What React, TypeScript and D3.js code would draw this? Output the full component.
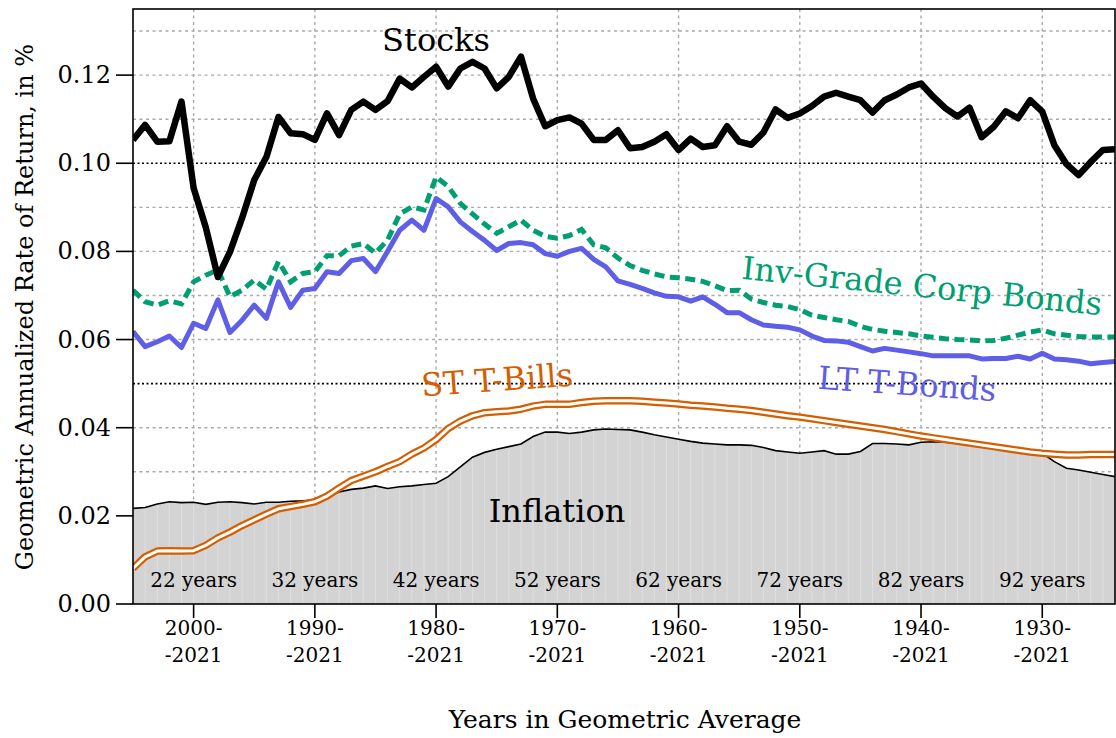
import React from "react";
import * as d3 from "d3";

const WIDTH = 1116;
const HEIGHT = 738;
const PLOT = { left: 133, right: 1115, top: 9, bottom: 604 };

// start year of each geometric average window (all windows end in 2021)
const startYears = d3.range(2005, 1923, -1);

const stocks = [
  0.1053, 0.1087, 0.1049, 0.105, 0.114, 0.0944, 0.0855, 0.0742, 0.0799, 0.0876,
  0.0962, 0.1014, 0.1105, 0.1068, 0.1066, 0.1053, 0.1113, 0.1064, 0.1121, 0.114,
  0.1121, 0.1141, 0.1192, 0.1172, 0.1196, 0.1219, 0.1174, 0.1215, 0.123, 0.1215,
  0.117, 0.1196, 0.1242, 0.1147, 0.1084, 0.1098, 0.1104, 0.109, 0.1053, 0.1053,
  0.1075, 0.1034, 0.1037, 0.1049, 0.1066, 0.103, 0.1056, 0.1037, 0.1041, 0.1084,
  0.1049, 0.1042, 0.107, 0.1122, 0.1103, 0.1113, 0.113, 0.1151, 0.116, 0.1151,
  0.1143, 0.1115, 0.1143, 0.1156, 0.1172, 0.1181, 0.1151, 0.1125, 0.1106, 0.1126,
  0.1059, 0.1083, 0.1118, 0.1102, 0.1143, 0.1117, 0.1041, 0.0998, 0.0973, 0.1003,
  0.103, 0.1032,
];

const corpBonds = [
  0.0712, 0.0686, 0.0678, 0.0688, 0.0681, 0.0731, 0.0746, 0.0758, 0.0697, 0.0712,
  0.0735, 0.0714, 0.0777, 0.0731, 0.075, 0.0754, 0.079, 0.079, 0.0812, 0.0818,
  0.0796, 0.0826, 0.0885, 0.0901, 0.0894, 0.0969, 0.0947, 0.0909, 0.0885, 0.0862,
  0.0841, 0.0856, 0.0871, 0.0848, 0.0834, 0.083, 0.0836, 0.085, 0.0815, 0.0808,
  0.0785, 0.0768, 0.0757, 0.0749, 0.0742, 0.074, 0.0737, 0.0732, 0.0722, 0.0711,
  0.0712, 0.0692, 0.0684, 0.0678, 0.0675, 0.0668, 0.0655, 0.065, 0.0645, 0.0641,
  0.063, 0.0623, 0.0619, 0.0616, 0.0613, 0.0608, 0.0605, 0.0602, 0.06, 0.0599,
  0.0597, 0.0598, 0.0603, 0.061, 0.0617, 0.0622, 0.0613, 0.061, 0.0607, 0.0606,
  0.0606, 0.0606,
];

const tBonds = [
  0.0618, 0.0584, 0.0595, 0.0608, 0.0582, 0.0637, 0.0625, 0.069, 0.0616, 0.0644,
  0.0678, 0.0648, 0.0731, 0.0673, 0.0712, 0.0716, 0.0754, 0.075, 0.0779, 0.0784,
  0.0754, 0.08, 0.0848, 0.0871, 0.0848, 0.092, 0.0901, 0.0867, 0.0845, 0.0825,
  0.0802, 0.0818, 0.082, 0.0815, 0.0795, 0.0789, 0.08, 0.0807, 0.0782, 0.0765,
  0.0733, 0.0725, 0.0716, 0.0706, 0.0698, 0.0697, 0.0687, 0.0697, 0.068, 0.0661,
  0.0661, 0.0645, 0.0633, 0.063, 0.0628, 0.0622, 0.0608, 0.0598, 0.0597, 0.0594,
  0.0584, 0.0574, 0.058, 0.0576, 0.0572, 0.0568, 0.0563, 0.0563, 0.0563, 0.0563,
  0.0556, 0.0557, 0.0557, 0.0562, 0.0556, 0.0569, 0.0556, 0.0554, 0.0551, 0.0545,
  0.0548, 0.055,
];

const tBills = [
  0.0081, 0.0107, 0.012, 0.0121, 0.012, 0.0121, 0.0133, 0.015, 0.0163, 0.0178,
  0.0191, 0.0204, 0.0216, 0.0221, 0.0226, 0.0232, 0.0245, 0.0263, 0.028, 0.029,
  0.03, 0.0312, 0.0323, 0.034, 0.0354, 0.0373, 0.0398, 0.0415, 0.0427, 0.0434,
  0.0436, 0.0438, 0.0442, 0.0449, 0.0453, 0.0453, 0.0453, 0.0457, 0.046, 0.0461,
  0.0461, 0.0461, 0.046, 0.0458, 0.0456, 0.0454, 0.0451, 0.0449, 0.0447, 0.0444,
  0.0442, 0.0439, 0.0435, 0.0431, 0.0427, 0.0424, 0.042, 0.0416, 0.0412, 0.0408,
  0.0404, 0.04, 0.0396, 0.0391, 0.0386, 0.0381, 0.0377, 0.0373, 0.0369, 0.0365,
  0.0361, 0.0357, 0.0353, 0.0349, 0.0345, 0.0342, 0.034, 0.0338, 0.0338, 0.0339,
  0.0339, 0.0339,
];

const inflation = [
  0.0217, 0.0219, 0.0227, 0.0232, 0.023, 0.0231, 0.0226, 0.0231, 0.0232, 0.023,
  0.0227, 0.0231, 0.0231, 0.0233, 0.0234, 0.0236, 0.0243, 0.0254, 0.026, 0.0263,
  0.0268, 0.0262, 0.0266, 0.0268, 0.0271, 0.0274, 0.0289, 0.0311, 0.0333, 0.0344,
  0.0351, 0.0357, 0.0363, 0.038, 0.039, 0.039, 0.0387, 0.039, 0.0395, 0.0397,
  0.0396, 0.0395, 0.039, 0.0384, 0.0379, 0.0374, 0.0369, 0.0365, 0.0363, 0.0361,
  0.0361, 0.036, 0.0355, 0.0348, 0.0345, 0.0342, 0.0345, 0.0348, 0.034, 0.034,
  0.0346, 0.0364, 0.0364, 0.0363, 0.0361, 0.0367, 0.0368, 0.0367, 0.0364, 0.0361,
  0.0358, 0.0356, 0.0354, 0.0352, 0.0349, 0.0342, 0.0323, 0.0308, 0.0304, 0.0299,
  0.0294, 0.0289,
];

const xTickYears = [2000, 1990, 1980, 1970, 1960, 1950, 1940, 1930];
const periodLabels = ["22 years", "32 years", "42 years", "52 years", "62 years", "72 years", "82 years", "92 years"];
const yTicks = [0, 0.02, 0.04, 0.06, 0.08, 0.1, 0.12];
const yGrid = [0.01, 0.02, 0.03, 0.04, 0.06, 0.07, 0.08, 0.09, 0.11, 0.12, 0.13];
const yRefLines = [0.05, 0.1];

const GREEN = "#009E73";
const BLUE = "#5E5EE6";
const ORANGE = "#D55E00";
const FONT = "DejaVu Serif";

export default function App() {
  const x = d3.scaleLinear().domain([2005, 1924]).range([PLOT.left, PLOT.right]);
  const y = d3.scaleLinear().domain([0, 0.135]).range([PLOT.bottom, PLOT.top]);

  const line = (vals: number[]) =>
    d3.line<number>()
      .x((_, i) => x(startYears[i]))
      .y((d) => y(d))(vals) ?? "";

  const inflArea = d3.area<number>()
    .x((_, i) => x(startYears[i]))
    .y0(y(0))
    .y1((d) => y(d))(inflation) ?? "";

  return (
    <div style={{ position: "absolute", left: 0, top: 0 }}>
      <svg width={WIDTH} height={HEIGHT} style={{ display: "block", fontFamily: FONT }}>
        <defs>
          <clipPath id="plot-clip">
            <rect x={PLOT.left} y={PLOT.top} width={PLOT.right - PLOT.left} height={PLOT.bottom - PLOT.top} />
          </clipPath>
        </defs>
        <rect width={WIDTH} height={HEIGHT} fill="white" />

        {/* grid */}
        {yGrid.map((v) => (
          <line key={"gy" + v} x1={PLOT.left} x2={PLOT.right} y1={y(v)} y2={y(v)}
            stroke="#aaaaaa" strokeWidth={1.4} strokeDasharray="3,3.5" />
        ))}
        {xTickYears.map((yr) => (
          <line key={"gx" + yr} x1={x(yr)} x2={x(yr)} y1={PLOT.top} y2={PLOT.bottom}
            stroke="#aaaaaa" strokeWidth={1.4} strokeDasharray="3,3.5" />
        ))}

        <g clipPath="url(#plot-clip)">
          {/* inflation as grey area with faint yearly bars */}
          <path d={inflArea} fill="#d3d3d3" />
          {inflation.map((v, i) => (
            <line key={"ib" + i} x1={x(startYears[i])} x2={x(startYears[i])} y1={y(0)} y2={y(v) + 1}
              stroke="#e2e2e2" strokeWidth={0.8} />
          ))}
          <path d={line(inflation)} fill="none" stroke="black" strokeWidth={1.6} />

          {yRefLines.map((v) => (
            <line key={"ref" + v} x1={PLOT.left} x2={PLOT.right} y1={y(v)} y2={y(v)}
              stroke="black" strokeWidth={1.6} strokeDasharray="2,2.5" />
          ))}

          <path d={line(tBills)} fill="none" stroke={ORANGE} strokeWidth={7.5} strokeLinejoin="round" />
          <path d={line(tBills)} fill="none" stroke="white" strokeWidth={3} strokeLinejoin="round" />
          <path d={line(tBonds)} fill="none" stroke={BLUE} strokeWidth={5} strokeLinejoin="round" />
          <path d={line(corpBonds)} fill="none" stroke={GREEN} strokeWidth={5} strokeDasharray="10,5.5" />
          <path d={line(stocks)} fill="none" stroke="black" strokeWidth={6.5} strokeLinejoin="round" />
        </g>

        {/* frame */}
        <rect x={PLOT.left} y={PLOT.top} width={PLOT.right - PLOT.left} height={PLOT.bottom - PLOT.top}
          fill="none" stroke="black" strokeWidth={1.6} />

        {/* y axis */}
        {yTicks.map((v) => (
          <g key={"yt" + v}>
            <line x1={PLOT.left - 17} x2={PLOT.left} y1={y(v)} y2={y(v)} stroke="black" strokeWidth={1.6} />
            <text x={PLOT.left - 22} y={y(v)} textAnchor="end" dominantBaseline="central" fontSize={24}>
              {d3.format(".2f")(v)}
            </text>
          </g>
        ))}

        {/* x axis */}
        {xTickYears.map((yr, i) => (
          <g key={"xt" + yr}>
            <line x1={x(yr)} x2={x(yr)} y1={PLOT.bottom} y2={PLOT.bottom + 14} stroke="black" strokeWidth={1.6} />
            <text x={x(yr)} textAnchor="middle" fontSize={20}>
              <tspan x={x(yr)} y={635}>{yr}-</tspan>
              <tspan x={x(yr)} y={662}>-2021</tspan>
            </text>
            <text x={x(yr)} y={587} textAnchor="middle" fontSize={20}>{periodLabels[i]}</text>
          </g>
        ))}

        {/* series labels */}
        <text x={436} y={51} textAnchor="middle" fontSize={32}>Stocks</text>
        <text x={557} y={522} textAnchor="middle" fontSize={32}>Inflation</text>
        <text transform="translate(922,286) rotate(5.8)" textAnchor="middle" dominantBaseline="central"
          fontSize={32} fill={GREEN}>Inv-Grade Corp Bonds</text>
        <text transform="translate(907,384) rotate(4)" textAnchor="middle" dominantBaseline="central"
          fontSize={32} fill={BLUE}>LT T-Bonds</text>
        <text transform="translate(497,380) rotate(-4)" textAnchor="middle" dominantBaseline="central"
          fontSize={32} fill={ORANGE}>ST T-Bills</text>

        {/* axis titles */}
        <text transform="translate(25,307) rotate(-90)" textAnchor="middle" dominantBaseline="central" fontSize={24}>
          Geometric Annualized Rate of Return, in %
        </text>
        <text x={625} y={728} textAnchor="middle" fontSize={25}>Years in Geometric Average</text>
      </svg>
    </div>
  );
}
